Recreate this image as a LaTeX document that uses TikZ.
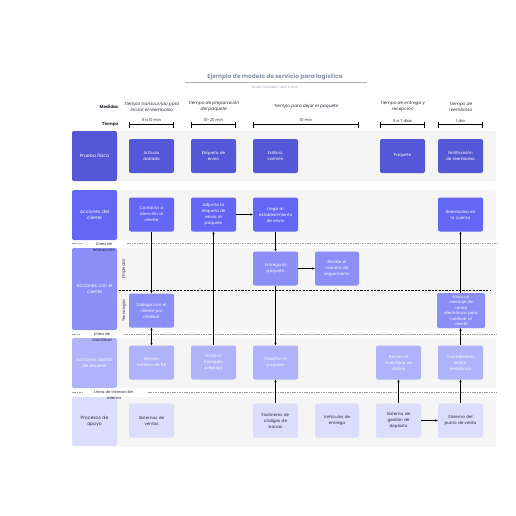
\documentclass[tikz,border=0pt]{standalone}
\usepackage{fontspec}
\setmainfont{Poppins}[AutoFakeSlant=0.2]
\usepackage[HTML]{xcolor}
\usetikzlibrary{positioning, arrows.meta}
\definecolor{laneA}{HTML}{5558D6}
\definecolor{laneB}{HTML}{6467F5}
\definecolor{laneC}{HTML}{8B8EF7}
\definecolor{laneD}{HTML}{B0B2FA}
\definecolor{laneE}{HTML}{DCDCFC}
\definecolor{lanebg}{HTML}{F5F5F5}
\definecolor{titlegray}{HTML}{8C93AE}
\definecolor{darktext}{HTML}{2B2B3A}

\begin{document}
\begin{tikzpicture}[x=1pt, y=-1pt,
  box/.style={rounded corners=2pt, minimum width=45pt, minimum height=34pt, inner sep=0pt,
    text width=44pt, align=center, text=white, font=\fontsize{4.1}{6}\selectfont},
  lanelab/.style={rounded corners=2pt, minimum width=45pt, inner sep=0pt,
    text width=44pt, align=center, text=white, font=\fontsize{4.5}{6.4}\selectfont},
  small/.style={font=\fontsize{3.9}{6}\selectfont, text=darktext, align=center, inner sep=0pt},
  flow/.style={-{Stealth[length=2.6pt,width=2.3pt]}, line width=0.5pt},
  sepline/.style={gray!75, line width=0.6pt, dash pattern=on 1.6pt off 0.8pt}]
\useasboundingbox (0,0) rectangle (516,516);

% title
\node[font=\fontsize{5.9}{7}\selectfont\bfseries, text=titlegray] (title) at (275,77) {Ejemplo de modelo de servicio para logística};
\draw[gray!60, line width=0.6pt] (185,82) coordinate (ul1) -- (367,82) coordinate (ul2);
\node[font=\fontsize{2.9}{4}\selectfont, text=titlegray] (sub) at (275,87.5) {System Template \,|\, April 4, 2025};

% measures
\node[small, anchor=east, font=\fontsize{4.2}{6}\selectfont\bfseries] (medidas) at (118.5,107) {Medidas};
\node[small, anchor=east, font=\fontsize{4.2}{6}\selectfont\bfseries] (tiempo) at (118.5,124.5) {Tiempo};
\foreach \cx/\txt in {151.5/{Tiempo transcurrido para\\iniciar el reembolso},
    213.5/{Tiempo de preparación\\del paquete},
    306/{Tiempo para dejar el paquete},
    402.5/{Tiempo de entrega y\\recepción},
    460.5/{Tiempo de\\reembolso}}
  \node[small, font=\fontsize{4.3}{6}\selectfont\itshape] at (\cx,106.5) {\txt};
\foreach \xa/\xb/\txt in {129/174/{5 a 10 min}, 191/236/{10-20 min}, 253/359/{10 min},
    380/425/{5 a 7 días}, 438/483/{1 día}}{
  \draw[line width=0.6pt, {Bar[width=6pt]}-{Bar[width=6pt]}] (\xa,124.5) -- (\xb,124.5);
  \node[small] at ({(\xa+\xb)/2},120.5) {\txt};
}

% lane backgrounds
\foreach \ya/\yb in {131/181, 190/240, 248/330, 338/388, 397/447}
  \fill[lanebg, rounded corners=2pt] (117,\ya) rectangle (496,\yb);

% lane labels
\node[lanelab, fill=laneA, minimum height=50pt] (lprueba) at (94.5,156) {Prueba física};
\node[lanelab, fill=laneB, minimum height=50pt] (lcliente) at (94.5,215) {Acciones del\\cliente};
\node[lanelab, fill=laneC, minimum height=82pt] (lcon) at (94.5,289) {Acciones con el\\cliente};
\node[lanelab, fill=laneD, minimum height=50pt] (ldetras) at (94.5,363) {Acciones detrás\\de escena};
\node[lanelab, fill=laneE, minimum height=49pt, text=darktext] (lapoyo) at (94.5,421.5) {Procesos de\\apoyo};
\node[small, rotate=90] (emp) at (124,269) {Empleado};
\node[small, rotate=90] (tec) at (124,311) {Tecnología};

% separator lines
\draw[sepline] (72,243.5) -- (82,243.5);
\draw[sepline] (127,243.5) -- (497,243.5);
\node[small] (linter) at (104,246.5) {Línea de\\interacción};
\draw[line width=0.6pt, dash pattern=on 2.2pt off 1.2pt] (119,290.5) -- (490,290.5);
\draw[sepline] (72,334) -- (80,334);
\draw[sepline] (124,334) -- (497,334);
\node[small] (lvis) at (102,337) {Línea de\\visibilidad};
\draw[sepline] (72,392) -- (82,392);
\draw[sepline] (148,392) -- (497,392);
\node[small] (lint) at (114,395) {Línea de interacción\\interna};

% physical evidence
\node[box, fill=laneA] (art) at (151.5,156) {Artículo\\dañado};
\node[box, fill=laneA] (eti) at (213.5,156) {Etiqueta de\\envío};
\node[box, fill=laneA] (edi) at (275.5,156) {Edificio,\\camión};
\node[box, fill=laneA] (paq) at (402.5,156) {Paquete};
\node[box, fill=laneA] (notif) at (460.5,156) {Notificación\\de reembolso};

% customer actions
\node[box, fill=laneB] (cont) at (151.5,214.5) {Contacta a\\atención al\\cliente};
\node[box, fill=laneB] (adj) at (213.5,214.5) {Adjunta la\\etiqueta de\\envío al\\paquete};
\node[box, fill=laneB] (llega) at (275.5,214.5) {Llega al\\establecimiento\\de envío};
\node[box, fill=laneB] (reemb) at (460.5,214.5) {Reembolso en\\la cuenta};

% onstage
\node[box, fill=laneC] (entr) at (275.5,268.5) {Entrega el\\paquete};
\node[box, fill=laneC, minimum width=44pt] (rnum) at (337,268.5) {Recibe el\\número de\\seguimiento};
\node[box, fill=laneC] (chat) at (151.5,310.5) {Diálogo con el\\cliente por\\chatbot};
\node[box, fill=laneC, minimum width=48pt, minimum height=35pt, font=\fontsize{4}{5.5}\selectfont] (mail) at (461,310.5) {Envía un\\mensaje de\\correo\\electrónico para\\notificar al\\cliente};

% backstage
\node[box, fill=laneD] (gen) at (151.5,362.5) {Genera\\número de RA};
\node[box, fill=laneD] (emite) at (213.5,362.5) {Emite el\\franqueo\\prepago};
\node[box, fill=laneD] (clas) at (275.5,362.5) {Clasifica el\\paquete};
\node[box, fill=laneD] (rinv) at (398.5,362.5) {Recibe el\\inventario de\\daños};
\node[box, fill=laneD] (contab) at (460.5,362.5) {Contabilidad\\emite\\reembolso};

% support
\node[box, fill=laneE, text=darktext] (sven) at (151.5,420.5) {Sistemas de\\ventas};
\node[box, fill=laneE, text=darktext] (esc) at (275.5,420.5) {Escáneres de\\códigos de\\barras};
\node[box, fill=laneE, text=darktext, minimum width=44pt] (veh) at (337,420.5) {Vehículos de\\entrega};
\node[box, fill=laneE, text=darktext] (gdep) at (398.5,420.5) {Sistema de\\gestión de\\depósito};
\node[box, fill=laneE, text=darktext] (pventa) at (460.5,420.5) {Sistema del\\punto de venta};

% flows
\draw[flow] (cont) -- (chat);
\draw[flow, {Stealth[length=2.6pt,width=2.3pt]}-{Stealth[length=2.6pt,width=2.3pt]}] (chat) -- (gen);
\draw[flow] (emite) -- (adj);
\draw[flow] (adj) -- (llega);
\draw[flow] (llega) -- (entr);
\draw[flow] (entr) -- (clas);
\draw[flow] (entr) -- (rnum);
\draw[flow] (esc) -- (clas);
\draw[flow] (gdep) -- (rinv);
\draw[flow] (gdep) -- (pventa);
\draw[flow] (pventa) -- (contab);
\draw[flow] (contab) -- (mail.south -| contab);
\draw[flow] (mail.north -| reemb) -- (reemb);
\end{tikzpicture}
\end{document}
